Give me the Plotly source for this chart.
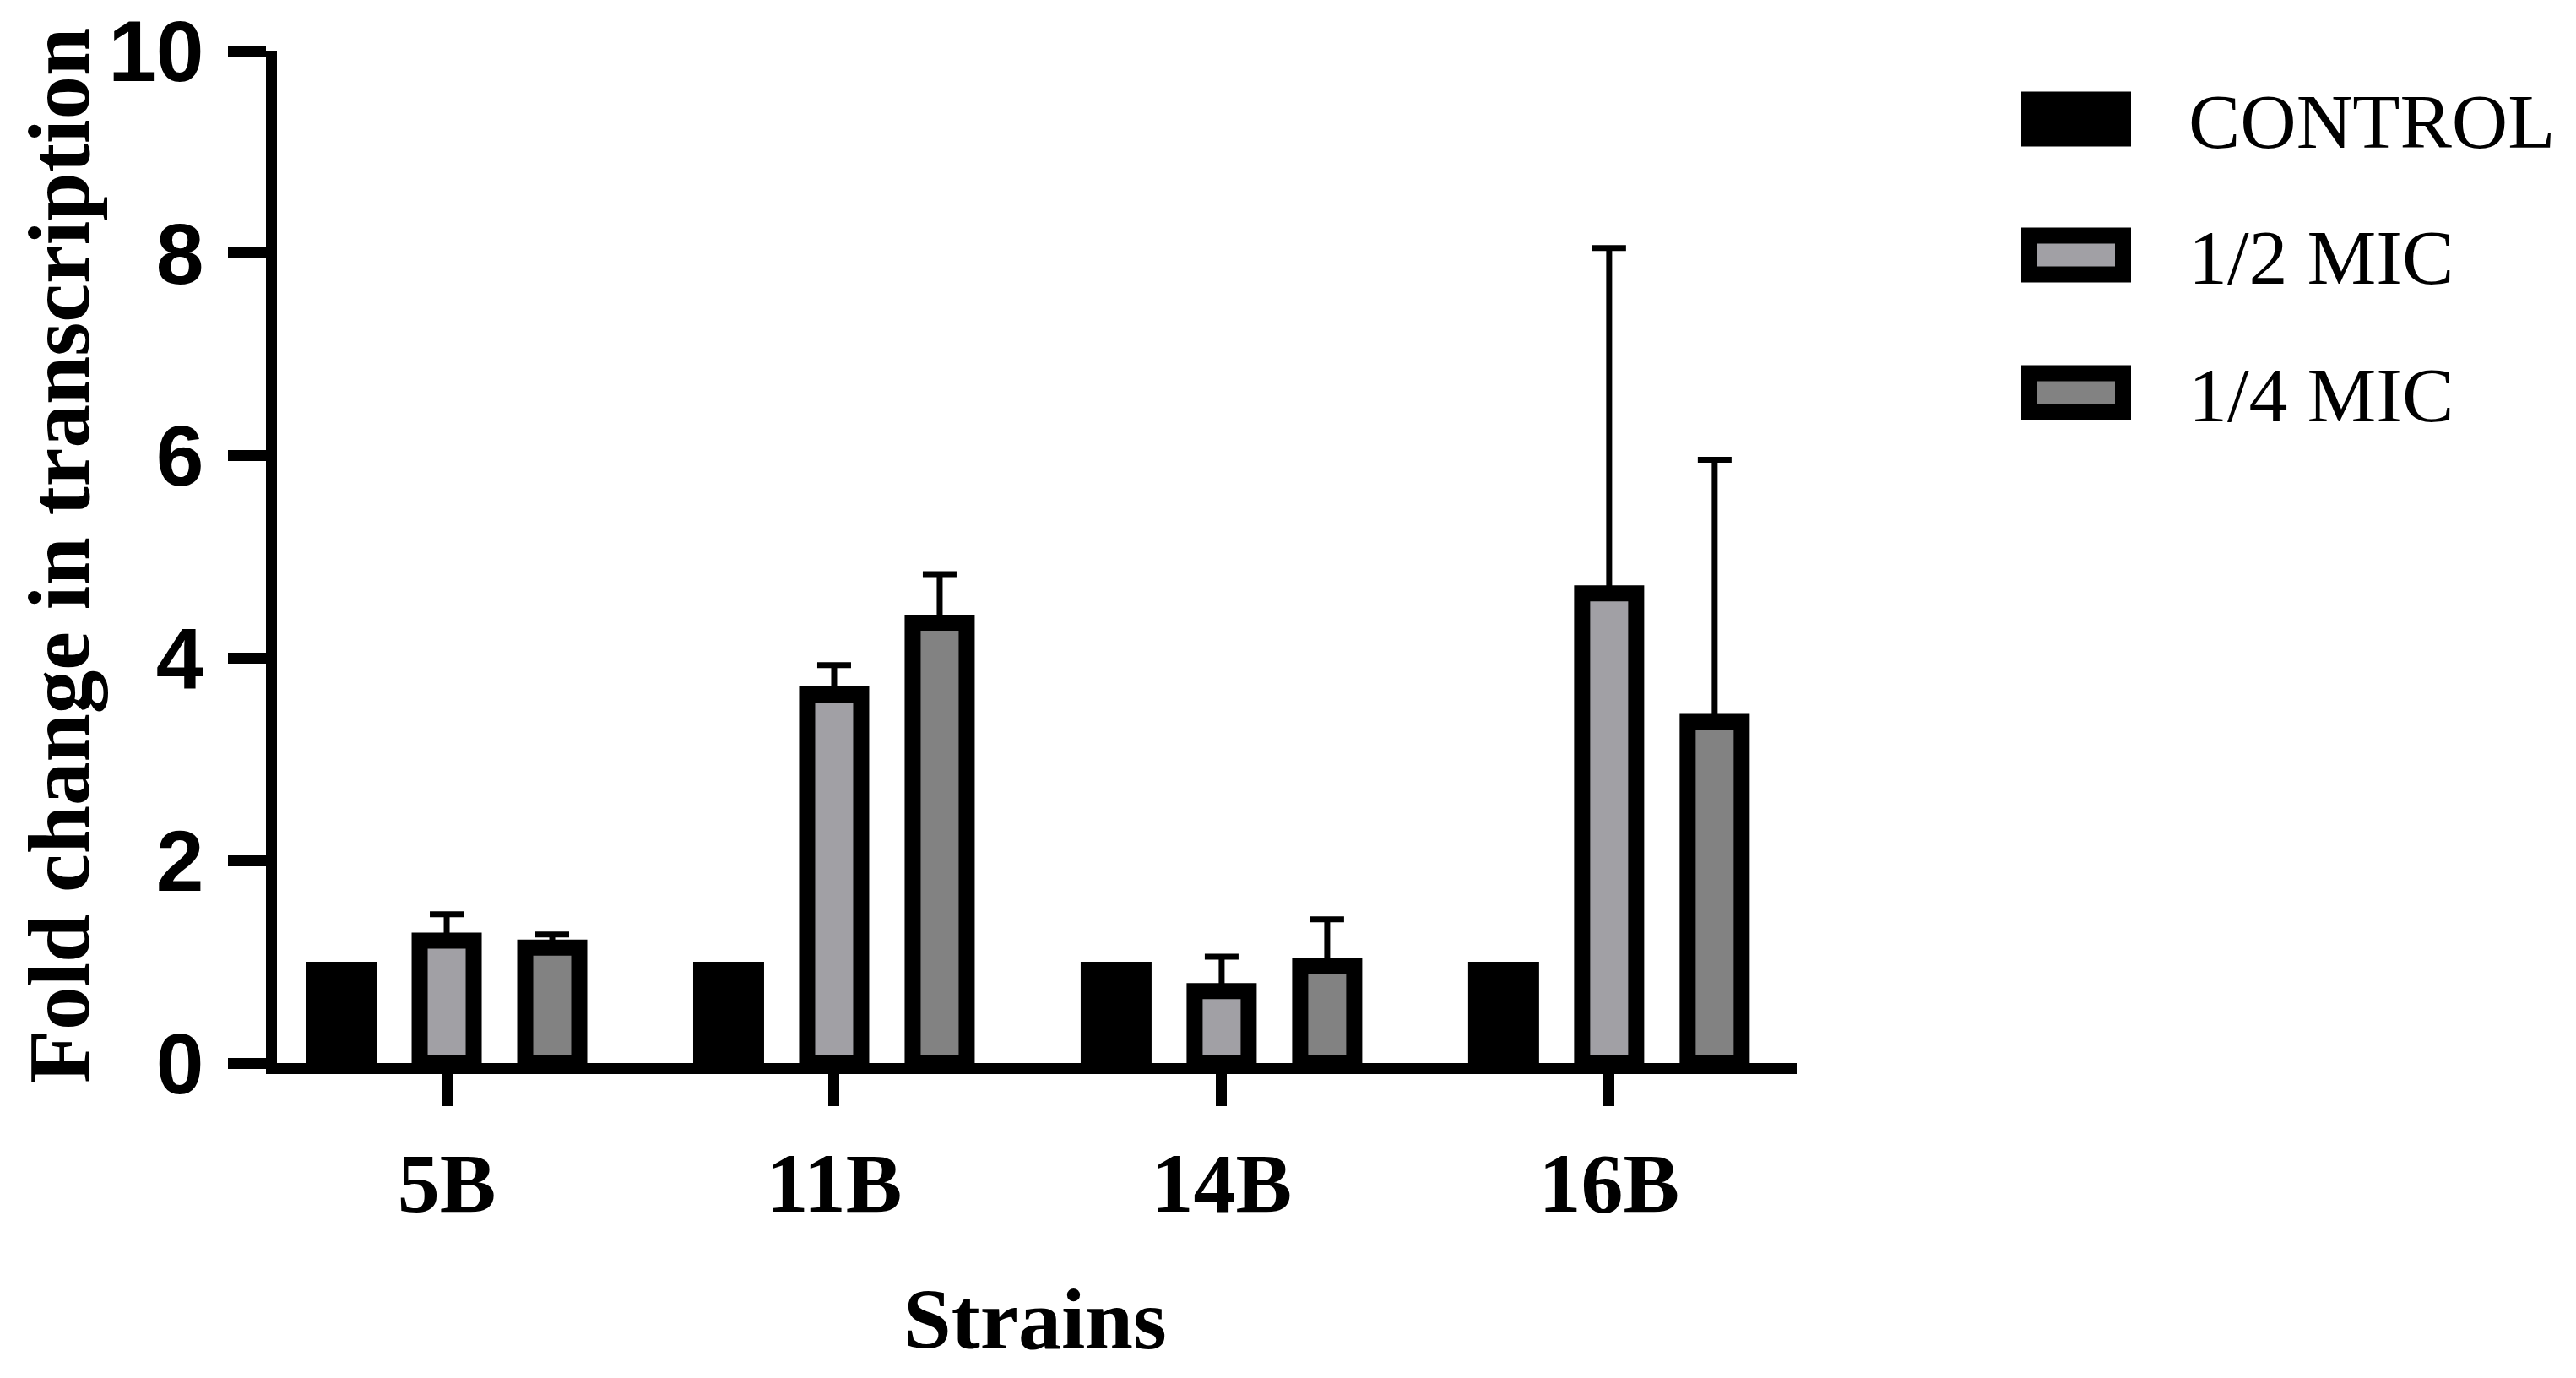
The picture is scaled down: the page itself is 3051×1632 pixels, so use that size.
import plotly.graph_objects as go

# data
strains = ['5B', '11B', '14B', '16B']
control = [1.0, 1.0, 1.0, 1.0]
half_mic = [1.21, 3.64, 0.71, 4.64]
half_mic_sd = [0.26, 0.29, 0.34, 3.41]
quarter_mic = [1.14, 4.35, 0.96, 3.37]
quarter_mic_sd = [0.13, 0.48, 0.46, 2.59]
no_error = [0, 0, 0, 0]

series_names = ['CONTROL', '1/2 MIC', '1/4 MIC']
series_fills = ['#000000', '#A1A0A5', '#828282']

# page geometry (pixels); OFF compensates for the browser's body margin
W, H = 3051, 1632
OFF = 8
L, R, T, B = 328 - OFF, 923 + OFF, 60 - OFF, 373 + OFF
plot_w = W - L - R
plot_h = H - T - B

SERIF = 'Liberation Serif'
SANS = 'Liberation Sans'
BORDER = 19
CAT_PX = 459  # pixels per category


def px_x(x):
    return (x - OFF - L) / plot_w


def px_y(y):
    return (H - B - (y - OFF)) / plot_h


fig = go.Figure()

# control bars: solid black, no outline, same outer width as outlined bars
fig.add_trace(go.Bar(
    name=series_names[0],
    x=strains,
    y=control,
    width=84 / CAT_PX,
    marker=dict(color=series_fills[0], line=dict(width=0)),
    showlegend=False,
))

for name, vals, sd, fill in zip(series_names[1:], [half_mic, quarter_mic],
                                [half_mic_sd, quarter_mic_sd], series_fills[1:]):
    fig.add_trace(go.Bar(
        name=name,
        x=strains,
        y=vals,
        marker=dict(color=fill, line=dict(color='black', width=BORDER)),
        error_y=dict(type='data', symmetric=False, array=sd, arrayminus=no_error,
                     color='black', thickness=7, width=20),
        showlegend=False,
    ))

# hand-built legend (big swatches like the original)
legend_rows = [141, 302, 465]
sw_left, sw_right, sw_h = 2394, 2524, 65
for name, fill, cy in zip(series_names, series_fills, legend_rows):
    fig.add_shape(
        type='rect', xref='paper', yref='paper',
        x0=px_x(sw_left + BORDER / 2), x1=px_x(sw_right - BORDER / 2),
        y0=px_y(cy - sw_h / 2 + BORDER / 2), y1=px_y(cy + sw_h / 2 - BORDER / 2),
        fillcolor=fill, line=dict(color='black', width=BORDER),
    )
    fig.add_annotation(
        text=name, xref='paper', yref='paper',
        x=px_x(2590), y=px_y(cy + 3), xanchor='left', yanchor='middle',
        showarrow=False, font=dict(family=SERIF, size=92, color='black'),
    )

# axis titles
fig.add_annotation(
    text='Fold change in transcription', xref='paper', yref='paper',
    x=px_x(70), y=px_y(658), xanchor='center', yanchor='middle', textangle=-90,
    showarrow=False, borderpad=0,
    font=dict(family=SERIF, size=103, color='black', weight='bold'),
)
fig.add_annotation(
    text='Strains', xref='paper', yref='paper',
    x=px_x(1226), y=px_y(1562), xanchor='center', yanchor='middle',
    showarrow=False, font=dict(family=SERIF, size=102, color='black', weight='bold'),
)

fig.update_layout(
    width=W,
    height=H,
    margin=dict(l=L, r=R, t=T, b=B, pad=0),
    barmode='group',
    bargap=0.183,
    bargroupgap=0.488,
    plot_bgcolor='white',
    paper_bgcolor='white',
    showlegend=False,
)

fig.update_xaxes(
    type='category',
    range=[-0.438, 3.484],
    automargin=False,
    showline=True, linecolor='black', linewidth=13,
    ticks='outside', ticklen=38, tickwidth=13, tickcolor='black',
    tickfont=dict(family=SERIF, size=100, color='black', weight='bold'),
    ticklabelstandoff=5,
    showgrid=False, zeroline=False, fixedrange=True,
)
fig.update_yaxes(
    range=[0, 10], dtick=2, tick0=0,
    automargin=False,
    showline=True, linecolor='black', linewidth=13,
    ticks='outside', ticklen=45, tickwidth=13, tickcolor='black',
    tickfont=dict(family=SANS, size=102, color='black', weight='bold'),
    ticklabelstandoff=8, ticklabeloverflow='allow',
    showgrid=False, zeroline=False, fixedrange=True,
)

fig.write_html('out.html', config={'displayModeBar': False})
